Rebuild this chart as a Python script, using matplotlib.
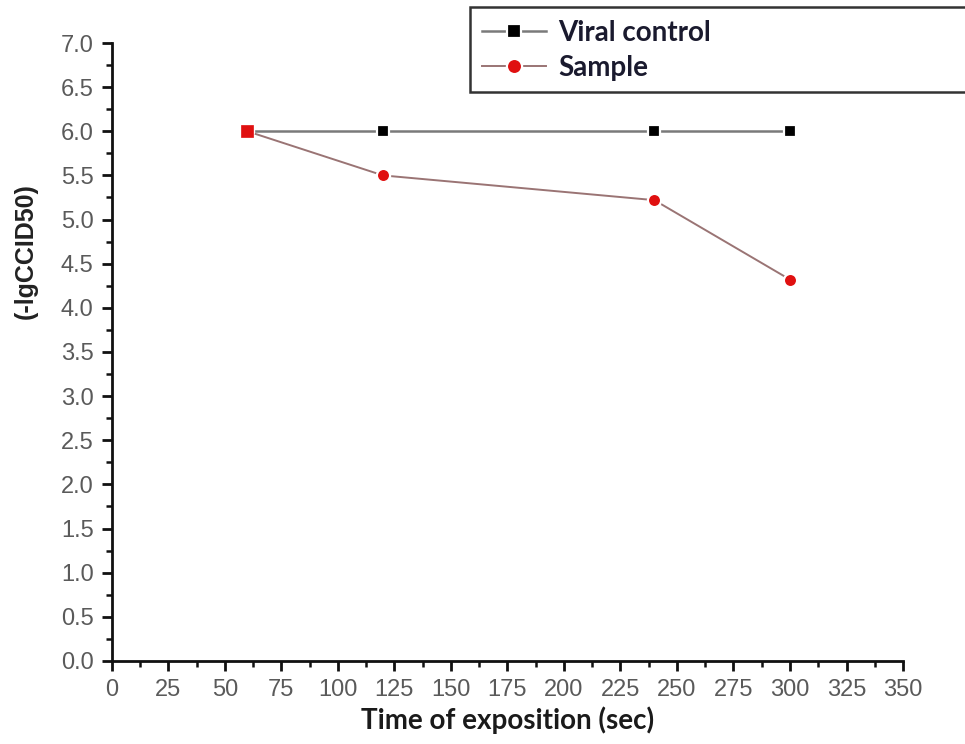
import matplotlib
matplotlib.use("Agg")
import matplotlib.pyplot as plt
from matplotlib.ticker import MultipleLocator
from matplotlib.patches import Rectangle

# Data
time_sec = [60, 120, 240, 300]
viral_control = [6.0, 6.0, 6.0, 6.0]
sample = [6.0, 5.5, 5.22, 4.32]
x_ticks = [0, 25, 50, 75, 100, 125, 150, 175, 200, 225, 250, 275, 300, 325, 350]
y_ticks = [0.0, 0.5, 1.0, 1.5, 2.0, 2.5, 3.0, 3.5, 4.0, 4.5, 5.0, 5.5, 6.0, 6.5, 7.0]

fig = plt.figure(figsize=(9.65, 7.44), dpi=100)
ax = fig.add_axes([0.1158, 0.1116, 0.82, 0.8306])

ax.plot(time_sec, viral_control, color="#7a7a7a", lw=1.8, marker="s", ms=8.5,
        mfc="black", mec="white", mew=1.6, label="Viral control", zorder=3)
ax.plot(time_sec, sample, color="#9a7474", lw=1.4, marker="o", ms=9.5,
        mfc="#e01010", mec="white", mew=1.6, label="Sample", zorder=4)
# coinciding points: red square appearance
coinc_x = [t for t, a, b in zip(time_sec, viral_control, sample) if a == b]
coinc_y = [a for a, b in zip(viral_control, sample) if a == b]
ax.plot(coinc_x, coinc_y, ls="none", marker="s", ms=8.5, mfc="#e01010",
        mec="#e01010", mew=0.5, zorder=5)

ax.set_xlim(0, 350)
ax.set_ylim(0, 7.0)
ax.set_xticks(x_ticks)
ax.set_yticks(y_ticks)
ax.set_xticklabels([str(v) for v in x_ticks])
ax.set_yticklabels([f"{v:.1f}" for v in y_ticks])
ax.xaxis.set_minor_locator(MultipleLocator(12.5))
ax.yaxis.set_minor_locator(MultipleLocator(0.25))

for s in ["top", "right"]:
    ax.spines[s].set_visible(False)
for s in ["left", "bottom"]:
    ax.spines[s].set_linewidth(2.0)
    ax.spines[s].set_color("#111111")

ax.tick_params(which="major", direction="out", length=7, width=2.0, color="#111111",
               labelsize=17, labelcolor="#5a5a5a", pad=6)
ax.tick_params(which="minor", direction="out", length=4, width=1.8, color="#111111")
for lab in ax.get_xticklabels() + ax.get_yticklabels():
    lab.set_family("Liberation Sans")

ax.set_xlabel("Time of exposition (sec)", fontsize=20, fontweight="bold",
              family="Lato", color="#1a1a1a", labelpad=4)
ax.set_ylabel("(-lgCCID50)", fontsize=18, fontweight="bold",
              family="Liberation Sans", color="#222222")
ax.yaxis.set_label_coords(-0.094, 0.663)

# Legend box (extends past right edge)
rect = Rectangle((470 / 965, 1 - 92 / 744), 0.6, (92 - 7) / 744,
                 transform=fig.transFigure, fill=True, facecolor="white",
                 edgecolor="#333333", lw=1.8, zorder=10, clip_on=False)
fig.patches.append(rect)
leg = fig.legend(loc="upper left", bbox_to_anchor=(482 / 965, 1 - 20 / 744),
                 frameon=False, borderpad=0, borderaxespad=0,
                 prop={"family": "Lato", "weight": "bold", "size": 20},
                 handlelength=2.3, handletextpad=0.45, labelspacing=0.32,
                 labelcolor="#1a1a2e", markerscale=1.15)
leg.set_zorder(11)

fig.savefig("out.png", dpi=100)
